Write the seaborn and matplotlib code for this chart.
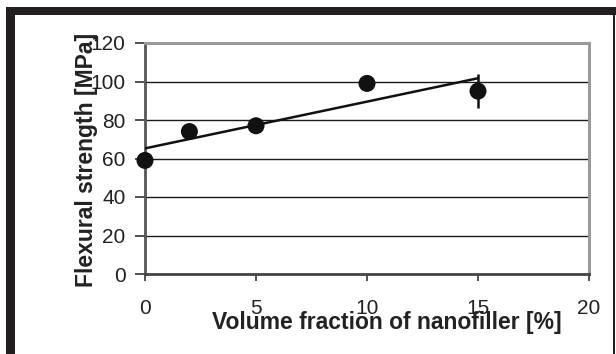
import numpy as np
import pandas as pd
import matplotlib
matplotlib.use("Agg")
import matplotlib.pyplot as plt
from matplotlib.patches import Rectangle
import seaborn as sns

# Data
volume_fraction = [0, 2, 5, 10, 15]
flexural_strength = [59, 74, 77, 99, 95]
strength_error = [1, 1.5, 4, 1, 9]
x_ticks = [0, 5, 10, 15, 20]
y_ticks = [0, 20, 40, 60, 80, 100, 120]
x_label = "Volume fraction of nanofiller [%]"
y_label = "Flexural strength [MPa]"

df = pd.DataFrame({"x": volume_fraction, "y": flexural_strength, "err": strength_error})

sns.set_theme(style="white")
plt.rcParams["font.family"] = ["Liberation Sans", "DejaVu Sans"]

W, H = 616, 354
fig = plt.figure(figsize=(W / 100, H / 100), dpi=100)
ax = fig.add_axes([145 / W, 1 - 274 / H, (589 - 145) / W, (274 - 43) / H])

# gridlines
for yv in y_ticks[1:-1]:
    ax.axhline(yv, color="#1a1a1a", lw=1.0, zorder=1)

# trend line
sns.regplot(data=df, x="x", y="y", scatter=False, ci=None, truncate=True,
            line_kws=dict(color="#111111", lw=1.8, zorder=3), ax=ax)

# error bars
ax.errorbar(df["x"], df["y"], yerr=df["err"], fmt="none", ecolor="#111111",
            elinewidth=1.8, capsize=0, zorder=4)
# markers
sns.scatterplot(data=df, x="x", y="y", s=150, color="#111111", edgecolor="none",
                zorder=5, ax=ax, clip_on=False)

ax.set_xlim(0, 20)
ax.set_ylim(0, 120)
ax.set_xticks(x_ticks)
ax.set_yticks(y_ticks)
ax.set_xticklabels([str(v) for v in x_ticks])
ax.set_yticklabels([str(v) for v in y_ticks])

ax.tick_params(axis="y", direction="out", length=7, width=1.2, color="#333333",
               pad=7, labelsize=15, labelcolor="#222222", left=True)
ax.tick_params(axis="x", direction="out", length=5, width=1.2, color="#333333",
               pad=13, labelsize=15, labelcolor="#222222", bottom=True)

for side in ["top", "right"]:
    ax.spines[side].set_color("#9a9a9a")
    ax.spines[side].set_linewidth(2.2)
ax.spines["left"].set_color("#555555")
ax.spines["left"].set_linewidth(2.0)
ax.spines["bottom"].set_color("#444444")
ax.spines["bottom"].set_linewidth(2.0)

ax.set_xlabel(x_label, fontsize=16.5, fontweight="bold", color="#222222")
ax.set_ylabel(y_label, fontsize=16.5, fontweight="bold", color="#222222")
ax.xaxis.set_label_coords((387 - 145) / (589 - 145), -(322 - 274) / (274 - 43))
ax.yaxis.set_label_coords(-(145 - 87) / (589 - 145), (274 - 160) / (274 - 43))
ax.xaxis.label.set_verticalalignment("center")
ax.yaxis.label.set_verticalalignment("center")

# black frame
fig.add_artist(Rectangle((6 / W, 1 - 15 / H), (W - 6) / W, 8 / H, transform=fig.transFigure,
                         color="#231f20", lw=0))
fig.add_artist(Rectangle((6 / W, 0), 9 / W, 1 - 7 / H, transform=fig.transFigure,
                         color="#231f20", lw=0))
fig.add_artist(Rectangle((613 / W, 0), 2 / W, 1 - 7 / H, transform=fig.transFigure,
                         color="#231f20", lw=0))

fig.savefig("out.png", dpi=100)
